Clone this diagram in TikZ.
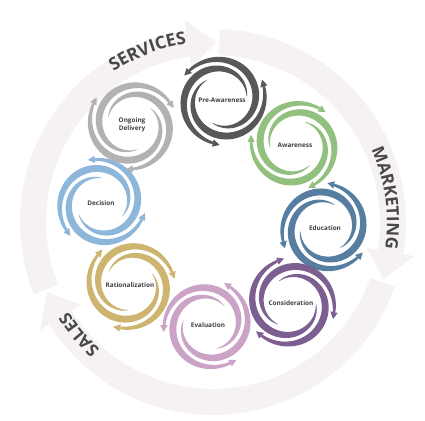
\documentclass[tikz,border=0pt]{standalone}
\usepackage{fontspec}
\setmainfont{Open Sans}
\usetikzlibrary{arrows.meta,decorations.text}
\definecolor{ringc}{RGB}{246,242,242}
\definecolor{bigc}{RGB}{72,72,72}
\definecolor{labc}{RGB}{64,64,64}
\definecolor{cPre}{RGB}{88,88,88}
\definecolor{cAwa}{RGB}{146,192,126}
\definecolor{cEdu}{RGB}{86,126,160}
\definecolor{cCon}{RGB}{124,94,144}
\definecolor{cEva}{RGB}{202,163,198}
\definecolor{cRat}{RGB}{205,181,112}
\definecolor{cDec}{RGB}{140,182,218}
\definecolor{cOng}{RGB}{178,178,178}
\tikzset{
  lab/.style={font=\fontsize{6.4}{7.6}\selectfont\bfseries, text=labc, align=center, inner sep=0pt},
}
\begin{document}
\begin{tikzpicture}[x=1pt,y=-1pt]
\useasboundingbox (0,0) rectangle (425,420);
\fill[white] (0,0) rectangle (425,420);
% ring arrows
\def\RCX{213}\def\RCY{222}\def\RR{180}\def\RW{13}\def\RH{24}\def\RHA{9}
\foreach \a/\b in {157/271, -89/18.6, 18.6/157}{
  \pgfmathsetmacro\bh{\b-\RHA}
  \pgfmathsetmacro\aa{\a+1}
  \fill[ringc] ({\RCX+(\RR+\RW)*cos(\aa)},{\RCY+(\RR+\RW)*sin(\aa)})
    arc[start angle=\aa, end angle=\bh, radius=\RR+\RW]
    -- ({\RCX+(\RR+\RH)*cos(\bh)},{\RCY+(\RR+\RH)*sin(\bh)})
    -- ({\RCX+\RR*cos(\b)},{\RCY+\RR*sin(\b)})
    -- ({\RCX+(\RR-\RH)*cos(\bh)},{\RCY+(\RR-\RH)*sin(\bh)})
    -- ({\RCX+(\RR-\RW)*cos(\bh)},{\RCY+(\RR-\RW)*sin(\bh)})
    arc[start angle=\bh, end angle=\aa, radius=\RR-\RW] -- cycle;
}
% big labels
\path[decorate, decoration={text along path, text align=center,
  text={|\fontsize{17.5}{17.5}\selectfont\bfseries\color{bigc}|SERVICES}}]
  ({\RCX+180*cos(-144)},{\RCY+180*sin(-144)}) arc[start angle=-144, end angle=-78, radius=180];
\path[decorate, decoration={text along path, text align=center,
  text={|\fontsize{17}{17}\selectfont\bfseries\color{bigc}|MARKETING}}]
  ({\RCX+174*cos(-44)},{\RCY+174*sin(-44)}) arc[start angle=-44, end angle=28, radius=174];
\path[decorate, decoration={text along path, text align=center,
  text={|\fontsize{17}{17}\selectfont\bfseries\color{bigc}|SALES}}]
  ({\RCX+170*cos(110)},{\RCY+170*sin(110)}) arc[start angle=110, end angle=170, radius=170];
% swirls
\foreach \cx/\cy/\e/\s/\col in {222/100/-18/-1/cPre, 295/145/-56/1/cAwa, 325/228/-78/-1/cEdu,
  291/303/-108/1/cCon, 208/325/-60/-1/cEva, 130/285/-137/1/cRat, 101/203/-98/-1/cDec, 132/125/-151/1/cOng}{
  \foreach \k in {0,1,2}{
    \pgfmathsetmacro\E{\e+120*\k}
    \pgfmathsetmacro\A{\E-\s*250}
    \fill[\col] plot[domain=0:1,samples=45,variable=\t]
      ({\cx+(25+19*\t+(0.4+6.6*sin(160*\t))/2)*cos(\A+\s*250*\t)},{\cy+(25+19*\t+(0.4+6.6*sin(160*\t))/2)*sin(\A+\s*250*\t)})
      -- plot[domain=1:0,samples=45,variable=\t]
      ({\cx+(25+19*\t-(0.4+6.6*sin(160*\t))/2)*cos(\A+\s*250*\t)},{\cy+(25+19*\t-(0.4+6.6*sin(160*\t))/2)*sin(\A+\s*250*\t)})
      -- cycle;
    \fill[\col] ({\cx+40.3*cos(\E)},{\cy+40.3*sin(\E)})
      -- ({\cx+45*cos(\E+\s*9)},{\cy+45*sin(\E+\s*9)})
      -- ({\cx+47.7*cos(\E)},{\cy+47.7*sin(\E)}) -- cycle;
  }
}
% labels
\node[lab] (pre) at (222,100) {Pre-Awareness};
\node[lab] (awa) at (295,145) {Awareness};
\node[lab] (edu) at (325,228) {Education};
\node[lab] (con) at (291,303) {Consideration};
\node[lab] (eva) at (208,325) {Evaluation};
\node[lab] (rat) at (130,285) {Rationalization};
\node[lab] (dec) at (101,203) {Decision};
\node[lab] (ong) at (132,125) {Ongoing\\Delivery};
\end{tikzpicture}
\end{document}
